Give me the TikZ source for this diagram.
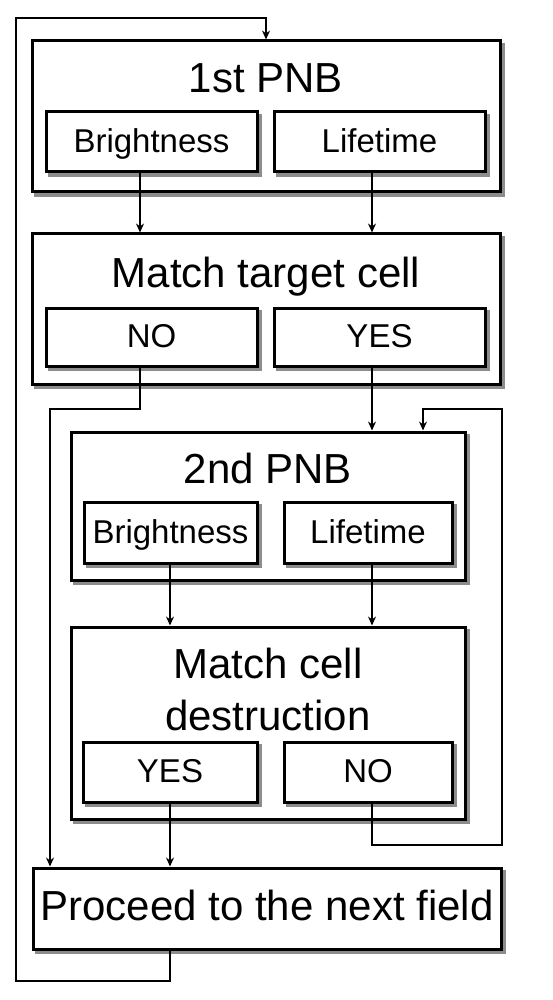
\documentclass[tikz,border=0pt]{standalone}
\usepackage{fontspec}
\setmainfont{Liberation Sans}
\usetikzlibrary{positioning,arrows.meta}
\tikzset{
  outerbox/.style={draw=black,fill=white,line width=3pt,inner sep=0pt,
    preaction={draw=black!45,fill=black!45,line width=3pt,
      transform canvas={shift={(3.5pt,-3.5pt)}}}},
  subbox/.style={outerbox,text height=24pt,text depth=3pt,
    font=\fontsize{33}{40}\selectfont},
  headtext/.style={anchor=base,inner sep=0pt,align=center,
    font=\fontsize{42}{52}\selectfont},
  conn/.style={line width=1.3pt,draw=black},
  flow/.style={conn,-{Stealth[length=9pt,width=8pt]}},
}

\begin{document}
\begin{tikzpicture}[x=1pt,y=-1pt]
  \useasboundingbox (0,0) rectangle (552,1000);
  % columns and rows for the connectors
  \coordinate (colA) at (140,0);
  \coordinate (colB) at (372,0);
  \coordinate (colC) at (170,0);
  \coordinate (colD) at (423,0);
  \coordinate (colE) at (50,0);
  \coordinate (railL) at (16,18);
  \coordinate (railR) at (502,0);
  \coordinate (rowA) at (0,409);
  \coordinate (rowB) at (0,845);
  \coordinate (rowC) at (0,981);
  % 1st PNB
  \node[outerbox,minimum width=468pt,minimum height=151pt] (pnbA) at (266,116.5) {};
  \node[headtext] (pnbA-t) at (266,93) {1st PNB};
  \node[subbox,minimum width=211pt,minimum height=60pt] (pnbA-b) at (151.5,142) {Brightness};
  \node[subbox,minimum width=211pt,minimum height=60pt] (pnbA-l) at (379.5,142) {Lifetime};
  % Match target cell
  \node[outerbox,minimum width=468pt,minimum height=150pt] (matchA) at (266,309) {};
  \node[headtext] (matchA-t) at (266,287) {Match target cell};
  \node[subbox,minimum width=211pt,minimum height=58pt] (noA) at (151.5,337) {NO};
  \node[subbox,minimum width=211pt,minimum height=58pt] (yesA) at (379.5,337) {YES};
  % 2nd PNB
  \node[outerbox,minimum width=394pt,minimum height=148pt] (pnbB) at (268,506) {};
  \node[headtext] (pnbB-t) at (268,483) {2nd PNB};
  \node[subbox,minimum width=173pt,minimum height=61pt] (pnbB-b) at (170.5,532.5) {Brightness};
  \node[subbox,minimum width=168pt,minimum height=61pt] (pnbB-l) at (368,532.5) {Lifetime};
  % Match cell destruction
  \node[outerbox,minimum width=394pt,minimum height=192pt] (matchB) at (268,723) {};
  \node[headtext] (matchB-t) at (268,730) {Match cell\\destruction};
  \node[subbox,minimum width=174pt,minimum height=60pt] (yesB) at (170,772) {YES};
  \node[subbox,minimum width=168pt,minimum height=60pt] (noB) at (368,772) {NO};
  % next field
  \node[outerbox,minimum width=468pt,minimum height=81pt] (next) at (267,908.5) {};
  \node[headtext] (next-t) at (267,920) {Proceed to the next field};
  % connectors
  \draw[flow] (pnbA-b.south -| colA) -- (matchA.north -| colA);
  \draw[flow] (pnbA-l.south -| colB) -- (matchA.north -| colB);
  \draw[flow] (noA.south -| colA) |- (rowA -| colE) -- (next.north -| colE);
  \draw[flow] (yesA.south -| colB) -- (pnbB.north -| colB);
  \draw[flow] (pnbB-b.south -| colC) -- (matchB.north -| colC);
  \draw[flow] (pnbB-l.south -| colB) -- (matchB.north -| colB);
  \draw[flow] (noB.south -| colB) |- (rowB -| railR) |- (rowA -| colD) -- (pnbB.north -| colD);
  \draw[flow] (yesB.south -| colC) -- (next.north -| colC);
  \draw[flow] (next.south -| colC) |- (rowC -| railL) -- (railL) -| (pnbA.north);
\end{tikzpicture}
\end{document}
